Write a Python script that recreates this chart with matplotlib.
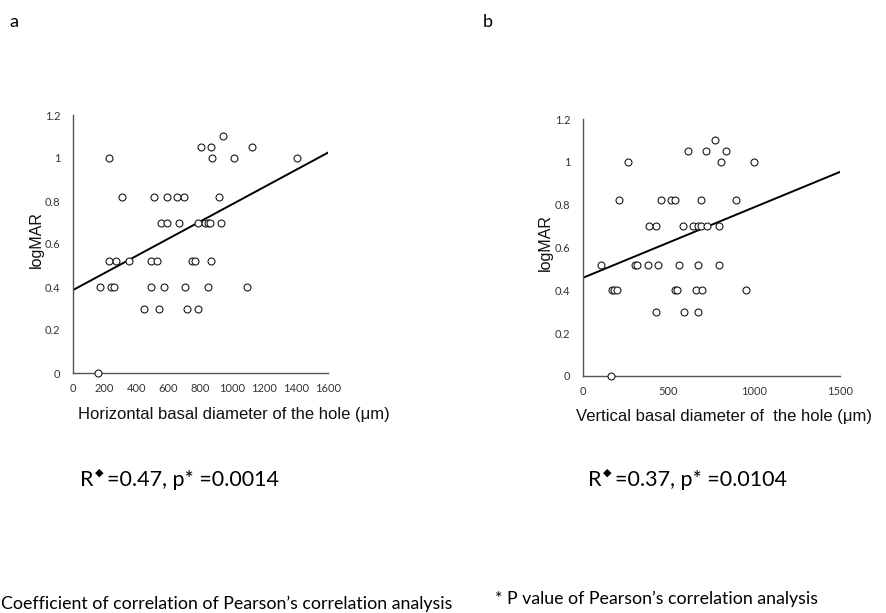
import matplotlib
matplotlib.use("Agg")
import matplotlib.pyplot as plt
from matplotlib.text import Annotation
import numpy as np

# ── data ──────────────────────────────────────────────────────────────
# panel a: horizontal basal diameter (µm) vs logMAR
horiz_x = [939,
           802, 868, 1121,
           228, 873, 1008, 1405,
           309, 509, 589, 656, 697, 914,
           553, 593, 668, 787, 831, 846, 860, 929,
           228, 269, 351, 489, 526, 745, 766, 866,
           173, 238, 257, 489, 572, 706, 846, 1090,
           445, 539, 714, 787,
           159]
horiz_y = [1.10,
           1.05, 1.05, 1.05,
           1.00, 1.00, 1.00, 1.00,
           0.82, 0.82, 0.82, 0.82, 0.82, 0.82,
           0.70, 0.70, 0.70, 0.70, 0.70, 0.70, 0.70, 0.70,
           0.52, 0.52, 0.52, 0.52, 0.52, 0.52, 0.52, 0.52,
           0.40, 0.40, 0.40, 0.40, 0.40, 0.40, 0.40, 0.40,
           0.30, 0.30, 0.30, 0.30,
           0.00]

# panel b: vertical basal diameter (µm) vs logMAR
vert_x = [773,
          614, 719, 837,
          266, 806, 999,
          210, 455, 515, 538, 688, 894,
          389, 425, 585, 645, 674, 688, 725, 795,
          105, 303, 315, 383, 439, 560, 670, 797,
          171, 185, 202, 540, 552, 661, 697, 950,
          425, 591, 670,
          167]
vert_y = [1.10,
          1.05, 1.05, 1.05,
          1.00, 1.00, 1.00,
          0.82, 0.82, 0.82, 0.82, 0.82, 0.82,
          0.70, 0.70, 0.70, 0.70, 0.70, 0.70, 0.70, 0.70,
          0.52, 0.52, 0.52, 0.52, 0.52, 0.52, 0.52, 0.52,
          0.40, 0.40, 0.40, 0.40, 0.40, 0.40, 0.40, 0.40,
          0.30, 0.30, 0.30,
          0.00]

# trend lines (intercept, slope) as drawn in the figure
trend_a = (0.385, 0.000400)
trend_b = (0.458, 0.000330)

stats_a = ("0.47", "0.0014")
stats_b = ("0.37", "0.0104")

xticks_a = [0, 200, 400, 600, 800, 1000, 1200, 1400, 1600]
xticks_b = [0, 500, 1000, 1500]
yticks = [0, 0.2, 0.4, 0.6, 0.8, 1.0, 1.2]
ytick_labels = ["0", "0.2", "0.4", "0.6", "0.8", "1", "1.2"]

TXT_FONT = ["Lato", "DejaVu Sans"]
AX_FONT = ["Liberation Sans", "DejaVu Sans"]

W, H = 887, 613
fig = plt.figure(figsize=(W / 100, H / 100), dpi=100)
fig.patch.set_facecolor("white")


def px(x, y):
    """pixel position (from top-left) -> figure fraction"""
    return x / W, 1 - y / H


def scatter_panel(rect, xs, ys, xmax, xticks, trend, xlabel, xlabel_pos, ylabel_pos):
    ax = fig.add_axes(rect)
    ax.plot(xs, ys, "o", ms=5.0, mfc="white", mec="#1a1a1a", mew=0.8,
            clip_on=False, zorder=3)
    b0, b1 = trend
    lx = np.array([0, xmax])
    ax.plot(lx, b0 + b1 * lx, color="black", lw=1.4, zorder=2)

    ax.set_xlim(0, xmax)
    ax.set_ylim(0, 1.2)
    ax.set_xticks(xticks)
    ax.set_xticklabels([str(t) for t in xticks])
    ax.set_yticks(yticks)
    ax.set_yticklabels(ytick_labels)
    ax.tick_params(length=0, labelsize=8, labelcolor="#333333")
    ax.tick_params(axis="x", pad=7)
    ax.tick_params(axis="y", pad=9)
    for lab in ax.get_xticklabels() + ax.get_yticklabels():
        lab.set_family(TXT_FONT)
    for s in ("top", "right"):
        ax.spines[s].set_visible(False)
    for s in ("left", "bottom"):
        ax.spines[s].set_color("#555555")
        ax.spines[s].set_linewidth(1.0)

    fig.text(*px(*xlabel_pos), xlabel, ha="left", va="center",
             fontsize=12, family=AX_FONT, color="#111111")
    fig.text(*px(*ylabel_pos), "logMAR", ha="center", va="center",
             rotation=90, fontsize=11.5, family=AX_FONT, color="#111111")
    return ax


scatter_panel([72.7 / W, 1 - 373 / H, (328 - 72.7) / W, (373 - 115) / H],
              horiz_x, horiz_y, 1600, xticks_a, trend_a,
              "Horizontal basal diameter of the hole (\u03bcm)", (78, 415), (36, 240))
scatter_panel([582.7 / W, 1 - 376 / H, (840 - 582.7) / W, (376 - 119) / H],
              vert_x, vert_y, 1500, xticks_b, trend_b,
              "Vertical basal diameter of  the hole (\u03bcm)", (576, 416), (545, 243))

# panel letters
fig.text(*px(14, 22), "a", ha="center", va="center", fontsize=13, family=TXT_FONT)
fig.text(*px(488, 22), "b", ha="center", va="center", fontsize=13, family=TXT_FONT)


def stats_text(x, y, r, p):
    t = fig.text(*px(x, y), "R", ha="left", va="baseline", fontsize=15.5, family=TXT_FONT)
    fig.add_artist(Annotation(
        "\u25c6", xy=(1, 0.62), xycoords=t, xytext=(0.8, 0), textcoords="offset points",
        ha="left", va="bottom", fontsize=8, family=["DejaVu Sans"]))
    fig.add_artist(Annotation(
        f"={r}, p* ={p}", xy=(1, 0), xycoords=t,
        xytext=(9.5, 0), textcoords="offset points", ha="left", va="bottom",
        fontsize=15.5, family=TXT_FONT))


stats_text(80, 486, *stats_a)
stats_text(588, 486, *stats_b)

fig.text(*px(452, 604), "Coefficient of correlation of Pearson\u2019s correlation analysis",
         ha="right", va="center", fontsize=12.8, family=TXT_FONT)
fig.text(*px(495, 599), "* P value of Pearson\u2019s correlation analysis",
         ha="left", va="center", fontsize=12.8, family=TXT_FONT)

fig.savefig("out.png", dpi=100, facecolor="white")
